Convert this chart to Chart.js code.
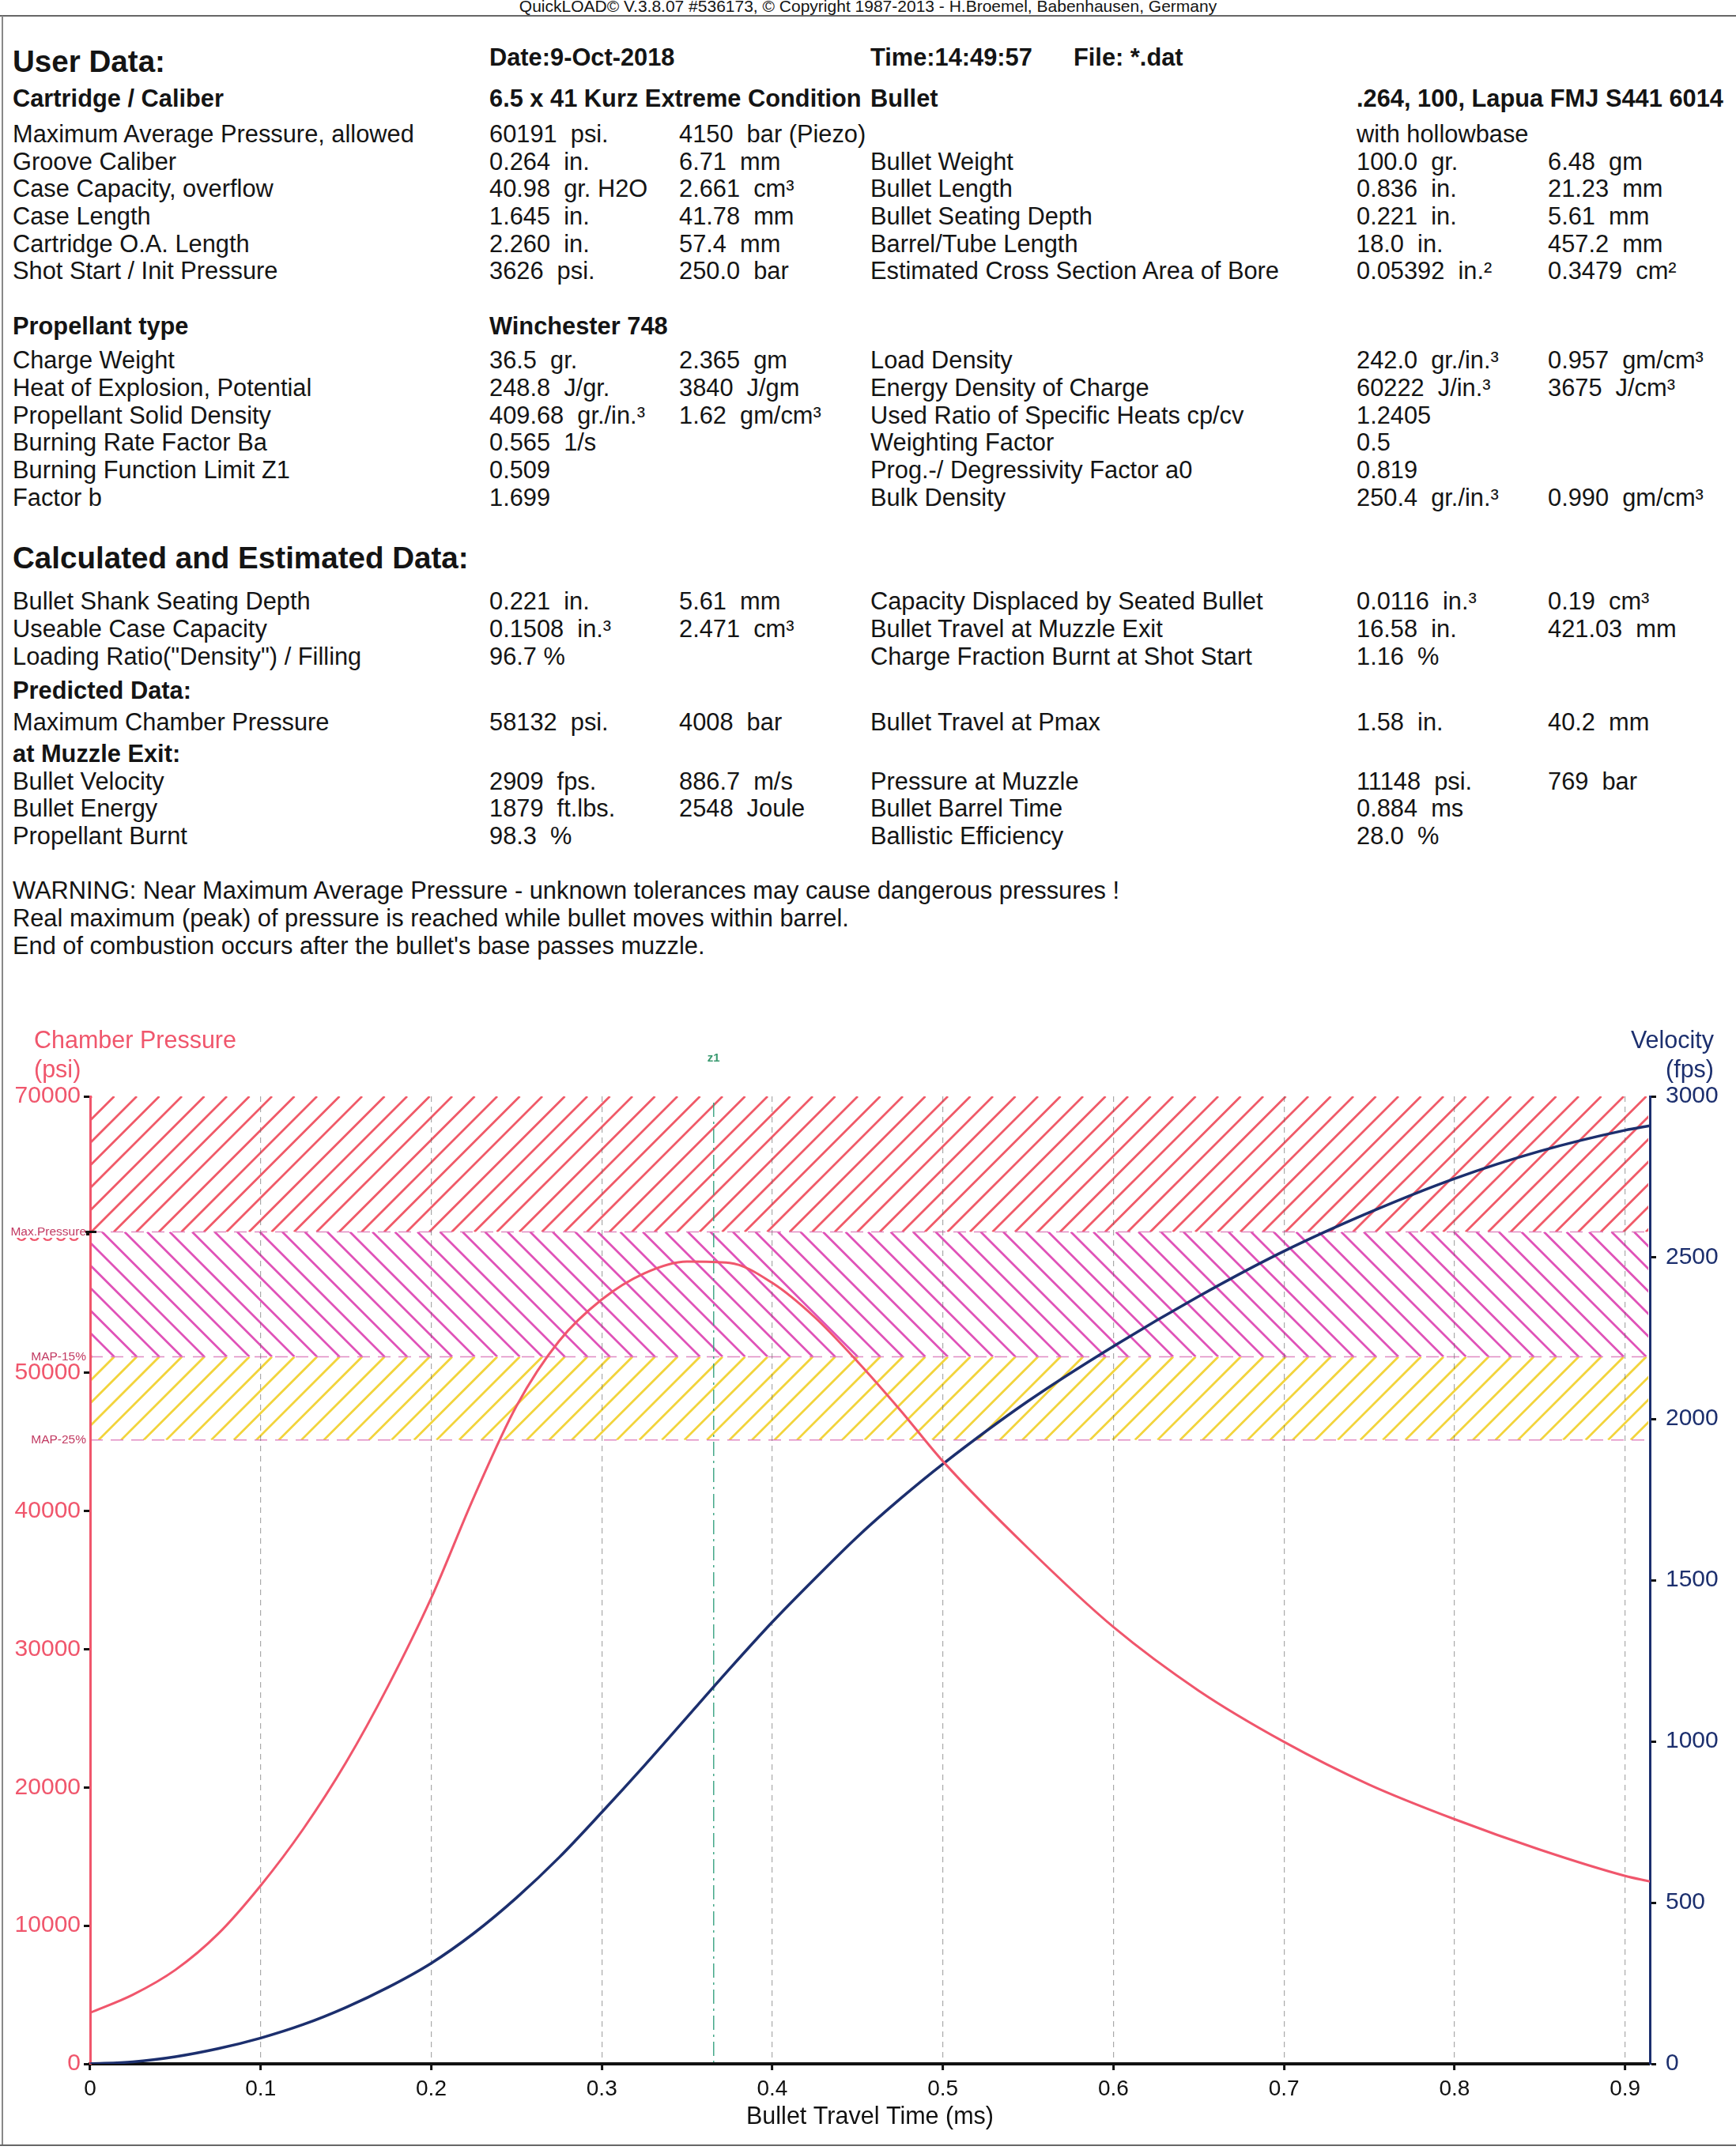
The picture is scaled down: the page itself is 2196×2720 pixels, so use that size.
<!DOCTYPE html>
<html>
<head>
<meta charset="utf-8">
<script src="https://cdn.jsdelivr.net/npm/chart.js@4.4.1/dist/chart.umd.min.js"></script>
<style>
  html, body { margin: 0; padding: 0; background: #fff; }
  body { width: 2196px; height: 2720px; position: relative; overflow: hidden;
         font-family: "Liberation Sans", Arial, sans-serif; color: #141414; }
  .t { position: absolute; white-space: pre; font-size: 30.8px; line-height: 34px; }
  .b { font-weight: bold; }
  .h { font-weight: bold; font-size: 38.6px; line-height: 44px; }
  .rule { position: absolute; background: #666; }
  #hdr { position: absolute; left: 0; width: 2196px; top: -4px; text-align: center;
         font-size: 21px; line-height: 24px; white-space: pre; }
  #chartBox { position: absolute; left: 0; top: 1290px; width: 2196px; height: 1407px; }
</style>
</head>
<body>
<div id="hdr">QuickLOAD© V.3.8.07 #536173, © Copyright 1987-2013 - H.Broemel, Babenhausen, Germany</div>
<div class="rule" style="left:0;top:19px;width:2196px;height:2px;"></div>
<div class="rule" style="left:2px;top:20px;width:2px;height:2695px;background:#888;"></div>
<div class="rule" style="left:0;top:2713px;width:2196px;height:2px;"></div>
<div id="chartBox"><canvas id="qlChart" width="2196" height="1407"></canvas></div>

<script>
// ---- text sheet ----
const C = [16, 619, 859, 1101, 1716, 1958];

const userY = [170, 205, 239, 274, 309, 343];
const userLeft = [
  ["Maximum Average Pressure, allowed", "60191  psi.", "4150  bar (Piezo)"],
  ["Groove Caliber", "0.264  in.", "6.71  mm"],
  ["Case Capacity, overflow", "40.98  gr. H2O", "2.661  cm³"],
  ["Case Length", "1.645  in.", "41.78  mm"],
  ["Cartridge O.A. Length", "2.260  in.", "57.4  mm"],
  ["Shot Start / Init Pressure", "3626  psi.", "250.0  bar"]
];
const userRight = [
  ["", "with hollowbase", ""],
  ["Bullet Weight", "100.0  gr.", "6.48  gm"],
  ["Bullet Length", "0.836  in.", "21.23  mm"],
  ["Bullet Seating Depth", "0.221  in.", "5.61  mm"],
  ["Barrel/Tube Length", "18.0  in.", "457.2  mm"],
  ["Estimated Cross Section Area of Bore", "0.05392  in.²", "0.3479  cm²"]
];

const propY = [456, 491, 526, 560, 595, 630];
const propLeft = [
  ["Charge Weight", "36.5  gr.", "2.365  gm"],
  ["Heat of Explosion, Potential", "248.8  J/gr.", "3840  J/gm"],
  ["Propellant Solid Density", "409.68  gr./in.³", "1.62  gm/cm³"],
  ["Burning Rate Factor Ba", "0.565  1/s", ""],
  ["Burning Function Limit Z1", "0.509", ""],
  ["Factor b", "1.699", ""]
];
const propRight = [
  ["Load Density", "242.0  gr./in.³", "0.957  gm/cm³"],
  ["Energy Density of Charge", "60222  J/in.³", "3675  J/cm³"],
  ["Used Ratio of Specific Heats cp/cv", "1.2405", ""],
  ["Weighting Factor", "0.5", ""],
  ["Prog.-/ Degressivity Factor a0", "0.819", ""],
  ["Bulk Density", "250.4  gr./in.³", "0.990  gm/cm³"]
];

const calcY = [761, 796, 831];
const calcLeft = [
  ["Bullet Shank Seating Depth", "0.221  in.", "5.61  mm"],
  ["Useable Case Capacity", "0.1508  in.³", "2.471  cm³"],
  ['Loading Ratio("Density") / Filling', "96.7 %", ""]
];
const calcRight = [
  ["Capacity Displaced by Seated Bullet", "0.0116  in.³", "0.19  cm³"],
  ["Bullet Travel at Muzzle Exit", "16.58  in.", "421.03  mm"],
  ["Charge Fraction Burnt at Shot Start", "1.16  %", ""]
];

const predY = [914];
const predLeft = [["Maximum Chamber Pressure", "58132  psi.", "4008  bar"]];
const predRight = [["Bullet Travel at Pmax", "1.58  in.", "40.2  mm"]];

const muzY = [989, 1023, 1058];
const muzLeft = [
  ["Bullet Velocity", "2909  fps.", "886.7  m/s"],
  ["Bullet Energy", "1879  ft.lbs.", "2548  Joule"],
  ["Propellant Burnt", "98.3  %", ""]
];
const muzRight = [
  ["Pressure at Muzzle", "11148  psi.", "769  bar"],
  ["Bullet Barrel Time", "0.884  ms", ""],
  ["Ballistic Efficiency", "28.0  %", ""]
];

const warnY = [1127, 1162, 1197];
const warnLines = [
  "WARNING: Near Maximum Average Pressure - unknown tolerances may cause dangerous pressures !",
  "Real maximum (peak) of pressure is reached while bullet moves within barrel.",
  "End of combustion occurs after the bullet's base passes muzzle."
];

function put(x, yc, txt, cls) {
  const d = document.createElement('div');
  d.className = 't' + (cls ? ' ' + cls : '');
  d.textContent = txt;
  const lh = cls === 'h' ? 44 : 34;
  d.style.left = x + 'px';
  d.style.top = (yc - lh / 2) + 'px';
  document.body.appendChild(d);
}
function putRows(rows, ys, cols) {
  rows.forEach((r, i) => r.forEach((txt, j) => { if (txt) put(cols[j], ys[i], txt); }));
}

put(C[0], 78, "User Data:", 'h');
put(C[1], 73, "Date:9-Oct-2018", 'b');
put(C[3], 73, "Time:14:49:57", 'b');
put(1358, 73, "File: *.dat", 'b');
put(C[0], 125, "Cartridge / Caliber", 'b');
put(C[1], 125, "6.5 x 41 Kurz Extreme Condition", 'b');
put(C[3], 125, "Bullet", 'b');
put(C[4], 125, ".264, 100, Lapua FMJ S441 6014", 'b');
putRows(userLeft, userY, [C[0], C[1], C[2]]);
putRows(userRight, userY, [C[3], C[4], C[5]]);

put(C[0], 413, "Propellant type", 'b');
put(C[1], 413, "Winchester 748", 'b');
putRows(propLeft, propY, [C[0], C[1], C[2]]);
putRows(propRight, propY, [C[3], C[4], C[5]]);

put(C[0], 706, "Calculated and Estimated Data:", 'h');
putRows(calcLeft, calcY, [C[0], C[1], C[2]]);
putRows(calcRight, calcY, [C[3], C[4], C[5]]);
put(C[0], 874, "Predicted Data:", 'b');
putRows(predLeft, predY, [C[0], C[1], C[2]]);
putRows(predRight, predY, [C[3], C[4], C[5]]);
put(C[0], 954, "at Muzzle Exit:", 'b');
putRows(muzLeft, muzY, [C[0], C[1], C[2]]);
putRows(muzRight, muzY, [C[3], C[4], C[5]]);
warnLines.forEach((s, i) => put(C[0], warnY[i], s));

// ---- chart data ----
const timeMs = [0, 0.025, 0.05, 0.075, 0.1, 0.125, 0.15, 0.175, 0.2, 0.225, 0.25, 0.275, 0.3, 0.325,
  0.35, 0.375, 0.4, 0.425, 0.45, 0.475, 0.5, 0.55, 0.6, 0.65, 0.7, 0.75, 0.8, 0.85, 0.9, 0.9145];
const pressurePsi = [3700, 5000, 6800, 9400, 12900, 17000, 21800, 27400, 33700, 41000, 47600, 52300,
  55300, 57200, 58050, 57950, 56500, 54000, 50800, 47300, 43600, 37300, 31600, 27000, 23300, 20200,
  17700, 15500, 13600, 13200];
const velocityFps = [0, 6, 22, 47, 80, 122, 175, 238, 312, 405, 515, 640, 780, 925, 1075, 1225, 1370,
  1505, 1635, 1752, 1860, 2055, 2225, 2380, 2520, 2640, 2745, 2830, 2895, 2909];

const timeTicks = [0, 0.1, 0.2, 0.3, 0.4, 0.5, 0.6, 0.7, 0.8, 0.9];
const pressureTicks = [0, 10000, 20000, 30000, 40000, 50000, 60000, 70000];
const velocityTicks = [0, 500, 1000, 1500, 2000, 2500, 3000];
const timeMax = 0.9145;

const zoneFrom = [45143, 51162, 60191];
const zoneTo = [51162, 60191, 70000];
const zoneNames = ['MAP-25%', 'MAP-15%', 'Max.Pressure'];
const z1Time = 0.3656;

// styles
const RED = '#f0566c';
const NAVY = '#1c2f6e';
const zoneColors = ['#f2d43c', '#e052b8', '#f05a68'];
const zoneDirs = [1, -1, 1];
const FONT = '"Liberation Sans", Arial, sans-serif';
Chart.defaults.font.family = FONT;

function hatch(ctx, x0, x1, yTop, yBot, color, dir) {
  const h = yBot - yTop, sp = 28.5;
  ctx.save();
  ctx.beginPath();
  ctx.rect(x0, yTop, x1 - x0, h);
  ctx.clip();
  ctx.strokeStyle = color;
  ctx.lineWidth = 2.8;
  ctx.beginPath();
  for (let s = x0 - h - sp; s < x1 + sp; s += sp) {
    if (dir > 0) { ctx.moveTo(s, yBot); ctx.lineTo(s + h, yTop); }
    else { ctx.moveTo(s, yTop); ctx.lineTo(s + h, yBot); }
  }
  ctx.stroke();
  ctx.restore();
}

const zonePlugin = {
  id: 'zones',
  beforeDraw(chart) {
    const { ctx, chartArea: a, scales: { x, y } } = chart;
    zoneFrom.forEach((lo, i) => {
      hatch(ctx, a.left + 2, a.right - 2, y.getPixelForValue(zoneTo[i]), y.getPixelForValue(lo),
        zoneColors[i], zoneDirs[i]);
    });
    ctx.save();
    ctx.setLineDash([16, 10]);
    ctx.lineWidth = 1.5;
    ctx.strokeStyle = 'rgba(220,120,185,0.85)';
    zoneFrom.forEach(v => {
      const py = y.getPixelForValue(v);
      ctx.beginPath(); ctx.moveTo(a.left, py); ctx.lineTo(a.right, py); ctx.stroke();
    });
    ctx.restore();

    const zx = x.getPixelForValue(z1Time);
    ctx.save();
    ctx.setLineDash([18, 6, 3, 6]);
    ctx.strokeStyle = 'rgba(50,160,125,0.9)';
    ctx.lineWidth = 1.5;
    ctx.beginPath(); ctx.moveTo(zx, a.top + 8); ctx.lineTo(zx, a.bottom); ctx.stroke();
    ctx.restore();
  },
  afterDraw(chart) {
    const { ctx, chartArea: a, scales: { x, y } } = chart;
    ctx.save();
    ctx.textBaseline = 'middle';
    ctx.font = '30.5px ' + FONT;
    ctx.fillStyle = RED;
    ctx.textAlign = 'left';
    ctx.fillText('Chamber Pressure', 43, 28);
    ctx.fillText('(psi)', 43, 65);
    ctx.fillStyle = NAVY;
    ctx.textAlign = 'right';
    ctx.fillText('Velocity', 2168, 28);
    ctx.fillText('(fps)', 2168, 65);

    ctx.textAlign = 'center';
    ctx.font = 'bold 15px ' + FONT;
    ctx.fillStyle = '#3a9a70';
    ctx.fillText('z1', x.getPixelForValue(z1Time), 49);

    ctx.font = '15.5px ' + FONT;
    ctx.textAlign = 'right';
    zoneFrom.forEach((v, i) => {
      const py = y.getPixelForValue(v);
      if (i === 2) {
        ctx.fillStyle = '#fff';
        ctx.fillRect(12, py - 11, 97, 18.5);
        ctx.strokeStyle = '#111';
        ctx.lineWidth = 3;
        ctx.beginPath(); ctx.moveTo(a.left - 6, py); ctx.lineTo(a.left + 8, py); ctx.stroke();
      }
      ctx.fillStyle = '#c23a62';
      ctx.fillText(zoneNames[i], 109, py);
    });
    ctx.restore();
  }
};

new Chart(document.getElementById('qlChart'), {
  type: 'line',
  data: {
    datasets: [
      {
        label: 'Chamber Pressure',
        data: timeMs.map((t, i) => ({ x: t, y: pressurePsi[i] })),
        yAxisID: 'y',
        borderColor: RED,
        borderWidth: 3,
        pointRadius: 0,
        cubicInterpolationMode: 'monotone',
        fill: false
      },
      {
        label: 'Velocity',
        data: timeMs.map((t, i) => ({ x: t, y: velocityFps[i] })),
        yAxisID: 'y1',
        borderColor: NAVY,
        borderWidth: 3.5,
        pointRadius: 0,
        cubicInterpolationMode: 'monotone',
        fill: false
      }
    ]
  },
  options: {
    responsive: false,
    animation: false,
    devicePixelRatio: 1,
    layout: { padding: { top: 97, left: 0, right: 0, bottom: 0 } },
    plugins: { legend: { display: false }, tooltip: { enabled: false } },
    scales: {
      x: {
        type: 'linear',
        min: 0,
        max: timeMax,
        afterBuildTicks: s => { s.ticks = timeTicks.map(v => ({ value: v })); },
        afterFit: s => { s.height = 86; },
        ticks: { callback: v => String(v), font: { size: 28 }, color: '#111', padding: 7,
                 maxRotation: 0, autoSkip: false },
        grid: { color: 'rgba(100,100,100,0.55)', lineWidth: 1.2, tickColor: '#111', tickWidth: 3, tickLength: 8 },
        border: { color: '#111', width: 4, dash: [7, 6] },
        title: { display: true, text: 'Bullet Travel Time (ms)', font: { size: 30.5 }, color: '#111', padding: 0 }
      },
      y: {
        position: 'left',
        min: 0,
        max: 70000,
        afterBuildTicks: s => { s.ticks = pressureTicks.map(v => ({ value: v })); },
        afterFit: s => { s.width = 114; },
        ticks: { callback: v => String(v), font: { size: 30 }, color: RED, padding: 4, autoSkip: false },
        grid: { drawOnChartArea: false, tickColor: '#111', tickWidth: 3, tickLength: 8 },
        border: { color: RED, width: 3 }
      },
      y1: {
        position: 'right',
        min: 0,
        max: 3000,
        afterBuildTicks: s => { s.ticks = velocityTicks.map(v => ({ value: v })); },
        afterFit: s => { s.width = 109; },
        ticks: { callback: v => String(v), font: { size: 30 }, color: NAVY, padding: 12, autoSkip: false },
        grid: { drawOnChartArea: false, tickColor: '#111', tickWidth: 3, tickLength: 8 },
        border: { color: NAVY, width: 3 }
      }
    }
  },
  plugins: [zonePlugin]
});
</script>
</body>
</html>
